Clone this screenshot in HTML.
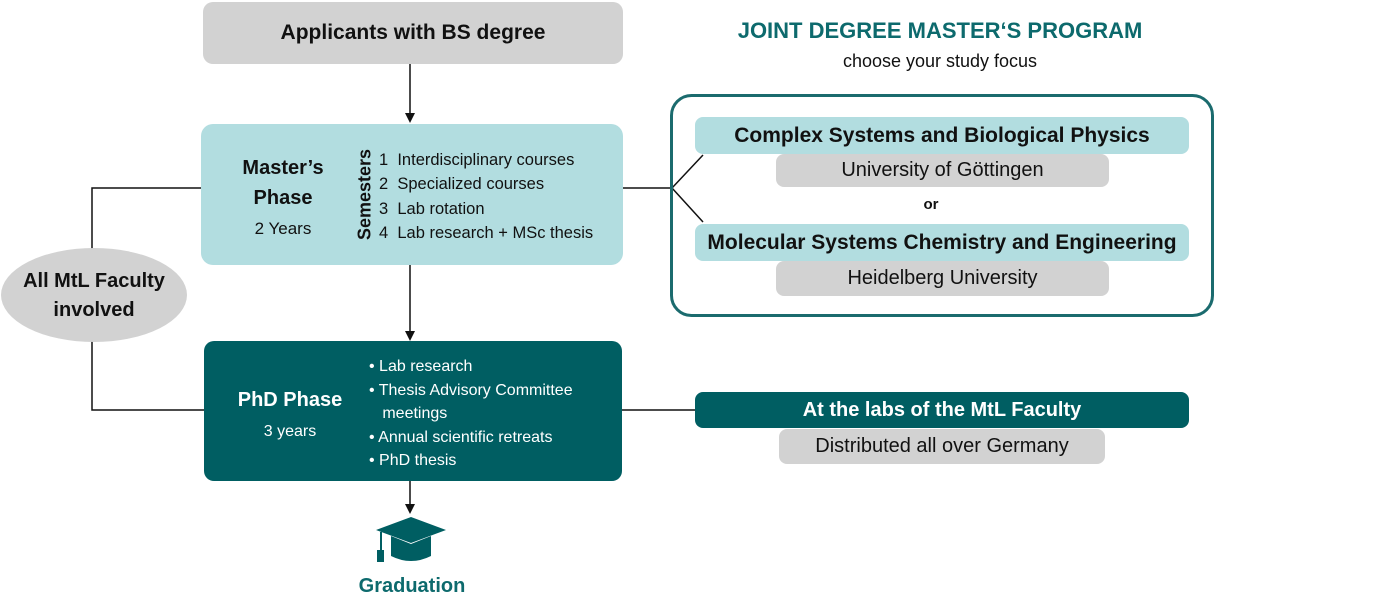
<!DOCTYPE html>
<html><head><meta charset="utf-8"><style>
body{margin:0;width:1378px;height:607px;background:#fff;position:relative;overflow:hidden;font-family:"Liberation Sans",sans-serif;color:#111}
.a{position:absolute}
.c{text-align:center}
.b{font-weight:bold}
.grey{background:#d2d2d2}
.lt{background:#b2dde0}
.dk{background:#005e62;color:#fff}
</style></head><body>
<svg class="a" style="left:0;top:0" width="1378" height="607">
<defs><marker id="ar" markerWidth="10" markerHeight="10" refX="8" refY="5" orient="auto" markerUnits="userSpaceOnUse"><path d="M0,0 L10,5 L0,10 z" fill="#111"/></marker></defs>
<g stroke="#111" stroke-width="1.5" fill="none">
<line x1="410" y1="64" x2="410" y2="121" marker-end="url(#ar)"/>
<line x1="410" y1="265" x2="410" y2="339" marker-end="url(#ar)"/>
<line x1="410" y1="481" x2="410" y2="512" marker-end="url(#ar)"/>
<polyline points="201,188 92,188 92,250"/>
<polyline points="92,340 92,410 204,410"/>
<polyline points="623,188 672,188"/>
<polyline points="703,155 672,188 703,222"/>
<line x1="622" y1="410" x2="695" y2="410"/>
</g>
<ellipse cx="94" cy="295" rx="93" ry="47" fill="#d2d2d2"/>
<rect x="671.5" y="95.5" width="541" height="220" rx="20" fill="none" stroke="#1b6b6e" stroke-width="3"/>
<g fill="#005e62">
<polygon points="411,517 446,530 411,543 376,530"/>
<path d="M391,536 L391,556 Q411,566 431,556 L431,536 L411,544 z"/>
<rect x="380" y="532" width="2" height="22"/>
<rect x="377" y="550" width="7" height="12"/>
</g>
</svg>
<div class="a grey c b" style="left:203px;top:2px;width:420px;height:62px;border-radius:10px;line-height:62px;font-size:21px">Applicants with BS degree</div>
<div class="a c b" style="left:700px;top:18px;width:480px;font-size:22px;color:#0d6a6d">JOINT DEGREE MASTER‘S PROGRAM</div>
<div class="a c" style="left:700px;top:51px;width:480px;font-size:18px">choose your study focus</div>
<div class="a lt" style="left:201px;top:124px;width:422px;height:141px;border-radius:12px"></div>
<div class="a c" style="left:220px;top:153px;width:126px;font-size:20px;line-height:30px"><b>Master’s<br>Phase</b><br><span style="font-size:17px">2 Years</span></div>
<div class="a b" style="left:310px;top:184px;width:110px;text-align:center;font-size:18px;transform:rotate(-90deg)">Semesters</div>
<div class="a" style="left:379px;top:148px;font-size:16.5px;line-height:24.3px;white-space:pre">1  Interdisciplinary courses
2  Specialized courses
3  Lab rotation
4  Lab research + MSc thesis</div>
<div class="a lt c b" style="left:695px;top:117px;width:494px;height:37px;border-radius:8px;line-height:37px;font-size:21px">Complex Systems and Biological Physics</div>
<div class="a grey c" style="left:776px;top:154px;width:333px;height:33px;border-radius:8px;line-height:33px;font-size:20px">University of Göttingen</div>
<div class="a c b" style="left:900px;top:196px;width:62px;font-size:15px">or</div>
<div class="a lt c b" style="left:695px;top:224px;width:494px;height:37px;border-radius:8px;line-height:37px;font-size:21px">Molecular Systems Chemistry and Engineering</div>
<div class="a grey c" style="left:776px;top:261px;width:333px;height:35px;border-radius:8px;line-height:35px;font-size:20px">Heidelberg University</div>
<div class="a c b" style="left:0;top:267px;width:188px;font-size:20px;line-height:29px">All MtL Faculty<br>involved</div>
<div class="a dk" style="left:204px;top:341px;width:418px;height:140px;border-radius:10px"></div>
<div class="a c" style="left:220px;top:385px;width:140px;color:#fff;font-size:20px;line-height:30px"><b>PhD Phase</b><br><span style="font-size:16px">3 years</span></div>
<div class="a" style="left:369px;top:355px;color:#fff;font-size:16px;line-height:23.5px">• Lab research<br>• Thesis Advisory Committee<br>&nbsp;&nbsp;&nbsp;meetings<br>• Annual scientific retreats<br>• PhD thesis</div>
<div class="a dk c b" style="left:695px;top:392px;width:494px;height:36px;border-radius:8px;line-height:36px;font-size:20px">At the labs of the MtL Faculty</div>
<div class="a grey c" style="left:779px;top:429px;width:326px;height:35px;border-radius:8px;line-height:35px;font-size:20px">Distributed all over Germany</div>
<div class="a c b" style="left:312px;top:575px;width:200px;font-size:20px;color:#0d6a6d">Graduation</div>
</body></html>
